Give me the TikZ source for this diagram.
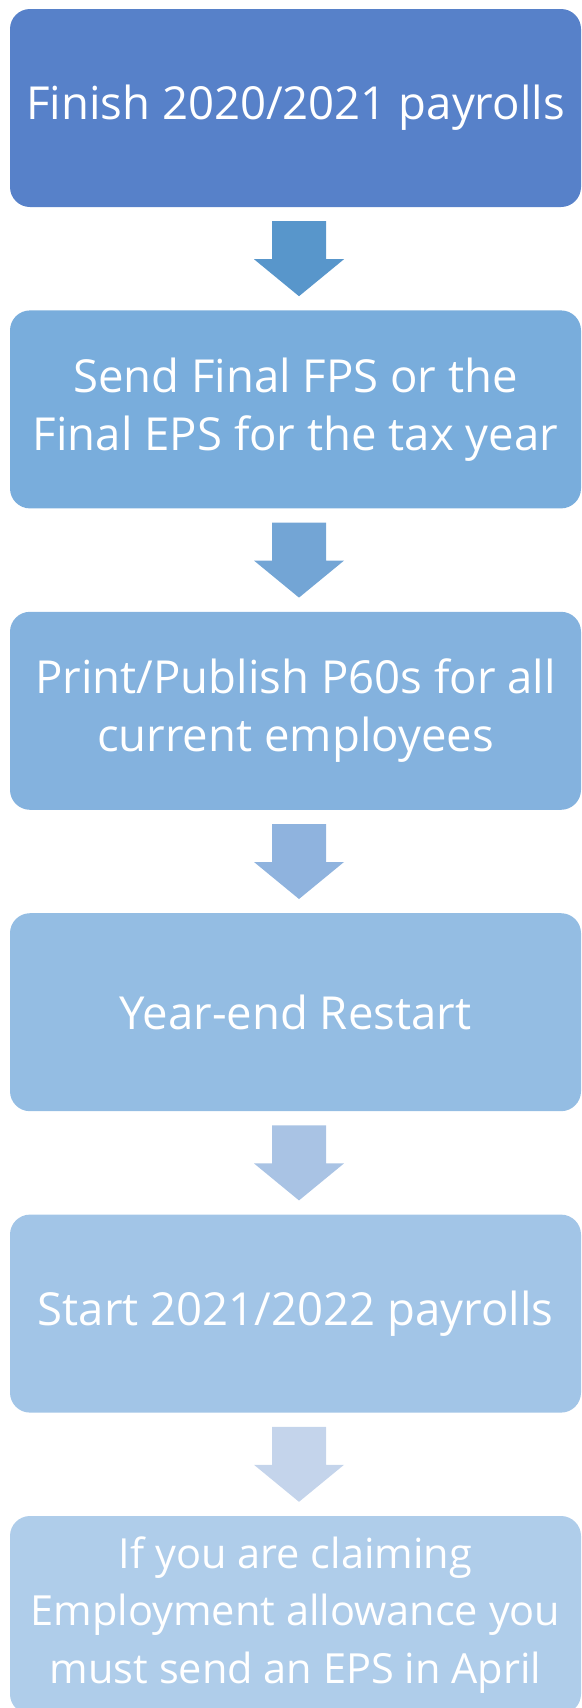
\documentclass[tikz,border=0pt]{standalone}
\usepackage{fontspec}
\setmainfont{Open Sans}
\usepackage{xcolor}
\definecolor{boxA}{HTML}{5781C9}
\definecolor{boxB}{HTML}{79ADDC}
\definecolor{boxC}{HTML}{84B2DE}
\definecolor{boxD}{HTML}{94BDE3}
\definecolor{boxE}{HTML}{A2C5E7}
\definecolor{boxF}{HTML}{AFCDEA}
\definecolor{arrA}{HTML}{5896CB}
\definecolor{arrB}{HTML}{73A5D5}
\definecolor{arrC}{HTML}{8FB3DE}
\definecolor{arrD}{HTML}{A9C3E4}
\definecolor{arrE}{HTML}{C4D4EB}
\usetikzlibrary{positioning, calc}

\begin{document}
\begin{tikzpicture}
        [
          x=1pt, y=1pt,
          node distance=103pt,
          stepbox/.style={rectangle, rounded corners=20pt, minimum width=571pt,
            minimum height=198pt, inner sep=0pt, text=white, align=center,
            font=\fontsize{45.5}{58}\selectfont}
        ]
        \useasboundingbox (0,0) rectangle (581,-1708);
        \clip (0,0) rectangle (581,-1708);

        \node[stepbox, fill=boxA] (b1) at (295.5,-108) {Finish 2020/2021 payrolls};
        \node[stepbox, fill=boxB, below=of b1] (b2) {Send Final FPS or the\\Final EPS for the tax year};
        \node[stepbox, fill=boxC, below=of b2] (b3) {Print/Publish P60s for all\\current employees};
        \node[stepbox, fill=boxD, below=of b3] (b4) {Year-end Restart};
        \node[stepbox, fill=boxE, below=of b4] (b5) {Start 2021/2022 payrolls};
        \node[stepbox, fill=boxF, below=of b5, font=\fontsize{41.5}{57.5}\selectfont] (b6)
          {If you are claiming\\Employment allowance you\\must send an EPS in April};

        % block arrows between the steps
        \foreach \u/\v/\c in {b1/b2/arrA, b2/b3/arrB, b3/b4/arrC, b4/b5/arrD, b5/b6/arrE}
          \fill[\c] ($(\u.south)+(-23.5,-14)$) -- ($(\u.south)+(30.5,-14)$)
            -- ($(\u.south)+(30.5,-52)$) -- ($(\u.south)+(48.5,-52)$)
            -- ($(\v.north)+(3.5,14)$)
            -- ($(\u.south)+(-41.5,-52)$) -- ($(\u.south)+(-23.5,-52)$) -- cycle;
      \end{tikzpicture}
\end{document}
